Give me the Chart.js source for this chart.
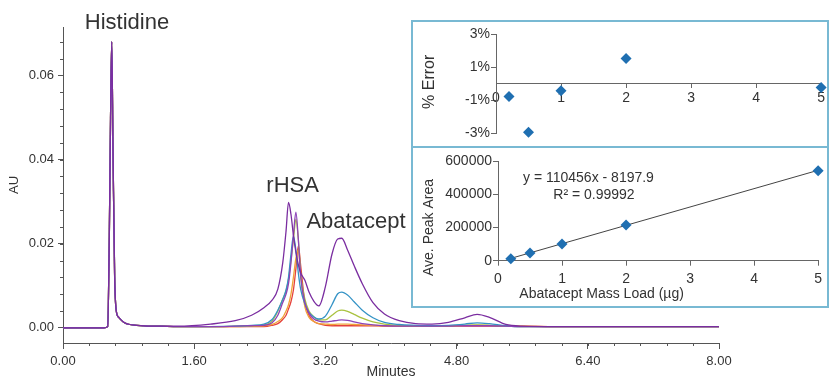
<!DOCTYPE html>
<html>
<head>
<meta charset="utf-8">
<script src="https://cdn.jsdelivr.net/npm/chart.js@4.4.1/dist/chart.umd.min.js"></script>
<style>
  html, body { margin: 0; padding: 0; background: #fff; overflow: hidden; }
  #wrap { position: relative; width: 829px; height: 379px; }
  #inset { position: absolute; left: 411px; top: 20px; width: 418px; height: 288px; box-sizing: border-box; border: 2px solid #78b9d3; background: #fff; }
  #divider { position: absolute; left: 0; top: 124px; width: 414px; height: 2px; background: #78b9d3; }
</style>
</head>
<body>
<div id="wrap">
  <canvas id="mainChart" width="829" height="379"></canvas>
  <div id="inset">
    <canvas id="errChart" width="414" height="124" style="position:absolute;left:0;top:0"></canvas>
    <div id="divider"></div>
    <canvas id="calChart" width="414" height="158" style="position:absolute;left:0;top:126px"></canvas>
  </div>
</div>
<script>
Chart.defaults.font.family = "'Liberation Sans', Arial, sans-serif";
Chart.defaults.color = '#333';

// retention time (min) shared by all traces
const minutes = [0, 0.50, 0.545, 0.565, 0.58, 0.594, 0.61, 0.63, 0.65, 0.68, 0.75, 0.90, 1.20,
  1.40, 1.80, 2.10, 2.30, 2.45, 2.55, 2.62, 2.68, 2.72, 2.75, 2.78, 2.81, 2.84, 2.87, 2.90, 2.95,
  3.00, 3.06, 3.12, 3.20, 3.28, 3.35, 3.40, 3.47, 3.55, 3.65, 3.78, 3.92, 4.10, 4.30, 4.50, 4.70,
  4.90, 5.05, 5.20, 5.40, 5.60, 6.00, 7.00, 8.00];

// histidine peak, same in every injection (0 - 1.2 min)
const histidine = [0, 0, 0.0003, 0.022, 0.05, 0.068, 0.042, 0.012, 0.004, 0.0025, 0.0012, 0.0006, 0.0004];

// AU from 1.4 min on
const au5 = histidine.concat([0.0004, 0.0009, 0.0017, 0.003, 0.0048, 0.0066, 0.0092, 0.0155, 0.023, 0.0298,
  0.027, 0.022, 0.018, 0.015, 0.013, 0.0113, 0.0085, 0.0063, 0.0052, 0.0098, 0.0175, 0.0211, 0.0213,
  0.0185, 0.0148, 0.0105, 0.006, 0.0033, 0.0017, 0.001, 0.0009, 0.0013, 0.0024, 0.0032, 0.0025,
  0.0008, 0.0004, 0.0003, 0.0003, 0.0003]);
const au2 = histidine.concat([0.0003, 0.0003, 0.0004, 0.0006, 0.0009, 0.002, 0.0042, 0.0068, 0.009, 0.012,
  0.0175, 0.0218, 0.0185, 0.013, 0.009, 0.0057, 0.0037, 0.0026, 0.0021, 0.0028, 0.0055, 0.0081, 0.0085,
  0.0078, 0.0062, 0.0042, 0.0024, 0.0013, 0.0008, 0.0006, 0.0005, 0.0006, 0.0009, 0.0012, 0.001,
  0.0005, 0.0003, 0.0003, 0.0003, 0.0003]);
const au1 = histidine.concat([0.0003, 0.0003, 0.0004, 0.0005, 0.0007, 0.0016, 0.004, 0.0068, 0.0088, 0.0115,
  0.016, 0.021, 0.0258, 0.021, 0.0125, 0.0068, 0.004, 0.0026, 0.0019, 0.0019, 0.003, 0.004, 0.0042,
  0.0039, 0.0032, 0.0023, 0.0014, 0.0009, 0.0006, 0.0005, 0.0005, 0.0005, 0.0006, 0.0007, 0.0006,
  0.0004, 0.0003, 0.0003, 0.0003, 0.0003]);
const au05 = histidine.concat([0.0003, 0.0003, 0.0004, 0.0005, 0.0006, 0.0012, 0.003, 0.006, 0.008, 0.0105,
  0.0155, 0.022, 0.0275, 0.021, 0.012, 0.006, 0.0035, 0.0021, 0.0016, 0.0014, 0.0016, 0.0018, 0.0019,
  0.0018, 0.0014, 0.001, 0.0007, 0.0005, 0.0004, 0.0004, 0.0004, 0.0004, 0.0005, 0.0005, 0.0005,
  0.0004, 0.0003, 0.0003, 0.0003, 0.0003]);
const au02 = histidine.concat([0.0003, 0.0003, 0.0003, 0.0004, 0.0005, 0.0008, 0.0015, 0.0025, 0.004, 0.0055,
  0.008, 0.012, 0.0165, 0.0185, 0.012, 0.005, 0.0025, 0.0015, 0.001, 0.0009, 0.0008, 0.0009, 0.0009,
  0.0009, 0.0008, 0.0007, 0.0006, 0.0005, 0.0005, 0.0005, 0.0005, 0.0005, 0.0006, 0.0006, 0.0006,
  0.0005, 0.0004, 0.0003, 0.0003, 0.0003]);
const blank = histidine.concat([0.0003, 0.0003, 0.0003, 0.0003, 0.0003, 0.0006, 0.001, 0.002, 0.003, 0.0045,
  0.0062, 0.009, 0.014, 0.0195, 0.0145, 0.006, 0.003, 0.0015, 0.001, 0.0006, 0.0005, 0.0005, 0.0005,
  0.0005, 0.0005, 0.0005, 0.0005, 0.0004, 0.0004, 0.0004, 0.0004, 0.0004, 0.0004, 0.0004, 0.0004,
  0.0004, 0.0004, 0.0003, 0.0003, 0.0003]);

const timeTicks = [0, 1.6, 3.2, 4.8, 6.4, 8];
const auTicks = [0, 0.02, 0.04, 0.06];

// inset: calibration
const loadUg = [0.2, 0.5, 1, 2, 5];
const pctError = [-0.79, -2.96, -0.44, 1.51, -0.24];
const avePeakArea = [12000, 46500, 100000, 215500, 541500];
const fitLoad = [0.2, 5];
const fitArea = [13900, 544100];

const minorTicks = {
  id: 'minorTicks',
  afterDraw(chart, args, opts) {
    const ctx = chart.ctx, xs = chart.scales.x, ys = chart.scales.y;
    ctx.save();
    ctx.strokeStyle = opts.color;
    ctx.lineWidth = 1;
    ctx.beginPath();
    for (let v = opts.xStep; v < xs.max; v += opts.xStep) {
      const px = Math.round(xs.getPixelForValue(v)) + 0.5;
      ctx.moveTo(px, xs.top);
      ctx.lineTo(px, xs.top + opts.len);
    }
    for (let v = opts.yStep; v < ys.max; v += opts.yStep) {
      const py = Math.round(ys.getPixelForValue(v)) + 0.5;
      ctx.moveTo(ys.right, py);
      ctx.lineTo(ys.right - opts.len, py);
    }
    ctx.stroke();
    ctx.restore();
  }
};

// text placed at data coordinates
const textMarks = {
  id: 'textMarks',
  afterDraw(chart, args, opts) {
    const ctx = chart.ctx;
    (opts.items || []).forEach(it => {
      ctx.save();
      ctx.translate(chart.scales.x.getPixelForValue(it.x), chart.scales.y.getPixelForValue(it.y));
      if (it.rotate) ctx.rotate(it.rotate);
      ctx.font = it.size + "px 'Liberation Sans', Arial, sans-serif";
      ctx.fillStyle = '#333';
      ctx.textAlign = 'center';
      ctx.textBaseline = 'alphabetic';
      ctx.fillText(it.text, 0, 0);
      ctx.restore();
    });
  }
};

const toXY = arr => arr.map((v, i) => ({ x: minutes[i], y: v }));
const traces = [
  [au5, '#7a2da0'],
  [au05, '#8c43b8'],
  [au2, '#3493c6'],
  [au1, '#a9c23f'],
  [au02, '#f0a23a'],
  [blank, '#e5413b']
];

new Chart(document.getElementById('mainChart'), {
  type: 'line',
  data: {
    datasets: traces.map(t => ({
      data: toXY(t[0]),
      borderColor: t[1],
      borderWidth: 1.3,
      pointRadius: 0,
      cubicInterpolationMode: 'monotone'
    }))
  },
  options: {
    responsive: false,
    animation: false,
    events: [],
    layout: { padding: { top: 27, right: 110, left: 0, bottom: 0 } },
    plugins: {
      legend: { display: false },
      tooltip: { enabled: false },
      minorTicks: { xStep: 0.32, yStep: 0.004, len: 3, color: '#555' },
      textMarks: {
        items: [
          { text: 'Histidine', x: 0.78, y: 0.0710, size: 22 },
          { text: 'rHSA', x: 2.80, y: 0.0324, size: 22 },
          { text: 'Abatacept', x: 3.573, y: 0.02367, size: 22 }
        ]
      }
    },
    scales: {
      x: {
        type: 'linear',
        min: 0,
        max: 8,
        afterBuildTicks: s => { s.ticks = timeTicks.map(v => ({ value: v })); },
        afterFit: s => { s.height = 36; },
        grid: { drawOnChartArea: false, tickLength: 6, tickColor: '#555' },
        border: { color: '#555' },
        ticks: { padding: 5, autoSkip: false, maxRotation: 0, font: { size: 13 }, callback: v => Number(v).toFixed(2) },
        title: { display: true, text: 'Minutes', font: { size: 14, lineHeight: 1 }, padding: 0 }
      },
      y: {
        min: -0.0036,
        max: 0.0715,
        afterBuildTicks: s => { s.ticks = auTicks.map(v => ({ value: v })); },
        afterFit: s => { s.width = 63; },
        grid: { drawOnChartArea: false, tickLength: 5, tickColor: '#555' },
        border: { color: '#555' },
        ticks: { padding: 4, font: { size: 13 }, callback: v => Number(v).toFixed(2) },
        title: { display: true, text: 'AU', font: { size: 13, lineHeight: 1 }, padding: { top: 8, bottom: 0 } }
      }
    }
  },
  plugins: [minorTicks, textMarks]
});

const diamond = {
  pointStyle: 'rectRot',
  radius: 5.5,
  backgroundColor: '#1f6fb1',
  borderColor: '#1f6fb1',
  borderWidth: 0
};

new Chart(document.getElementById('errChart'), {
  type: 'scatter',
  data: {
    datasets: [Object.assign({ data: loadUg.map((x, i) => ({ x: x, y: pctError[i] })), clip: false }, diamond)]
  },
  options: {
    responsive: false,
    animation: false,
    events: [],
    layout: { padding: { top: 12, right: 5, bottom: 13, left: 0 } },
    plugins: {
      legend: { display: false },
      tooltip: { enabled: false },
      textMarks: { items: [{ text: '% Error', x: -0.946, y: 0.1, size: 16, rotate: -Math.PI / 2 }] }
    },
    scales: {
      x: {
        type: 'linear',
        min: 0,
        max: 5,
        position: { y: 0 },
        grid: { drawOnChartArea: false, tickLength: 4, tickColor: '#666' },
        border: { color: '#666' },
        ticks: { stepSize: 1, padding: 2, font: { size: 14 } }
      },
      y: {
        min: -3,
        max: 3,
        afterFit: s => { s.width = 83; },
        grid: { drawOnChartArea: false, tickLength: 5, tickColor: '#666' },
        border: { color: '#666' },
        ticks: { stepSize: 2, padding: 1, font: { size: 14 }, callback: v => v + '%' }
      }
    }
  },
  plugins: [textMarks]
});

new Chart(document.getElementById('calChart'), {
  type: 'scatter',
  data: {
    datasets: [
      Object.assign({ data: loadUg.map((x, i) => ({ x: x, y: avePeakArea[i] })), clip: false }, diamond),
      {
        data: fitLoad.map((x, i) => ({ x: x, y: fitArea[i] })),
        showLine: true,
        borderColor: '#444',
        borderWidth: 1,
        pointRadius: 0
      }
    ]
  },
  options: {
    responsive: false,
    animation: false,
    events: [],
    layout: { padding: { top: 13, right: 7, bottom: 0, left: 0 } },
    plugins: {
      legend: { display: false },
      tooltip: { enabled: false },
      textMarks: {
        items: [
          { text: 'y = 110456x - 8197.9', x: 1.413, y: 475400, size: 14 },
          { text: 'R\u00B2 = 0.99992', x: 1.499, y: 371300, size: 14 },
          { text: 'Abatacept Mass Load (\u00B5g)', x: 1.618, y: -226300, size: 14 },
          { text: 'Ave. Peak Area', x: -1.017, y: 199800, size: 14, rotate: -Math.PI / 2 }
        ]
      }
    },
    scales: {
      x: {
        type: 'linear',
        min: 0,
        max: 5,
        afterFit: s => { s.height = 45.3; },
        grid: { drawOnChartArea: false, tickLength: 5, tickColor: '#666' },
        border: { color: '#666' },
        ticks: { stepSize: 1, padding: 5, font: { size: 14 } }
      },
      y: {
        min: 0,
        max: 600000,
        afterFit: s => { s.width = 85; },
        grid: { drawOnChartArea: false, tickLength: 5, tickColor: '#666' },
        border: { color: '#666' },
        ticks: { stepSize: 200000, padding: 1, font: { size: 14 }, callback: v => String(v) }
      }
    }
  },
  plugins: [textMarks]
});
</script>
</body>
</html>
